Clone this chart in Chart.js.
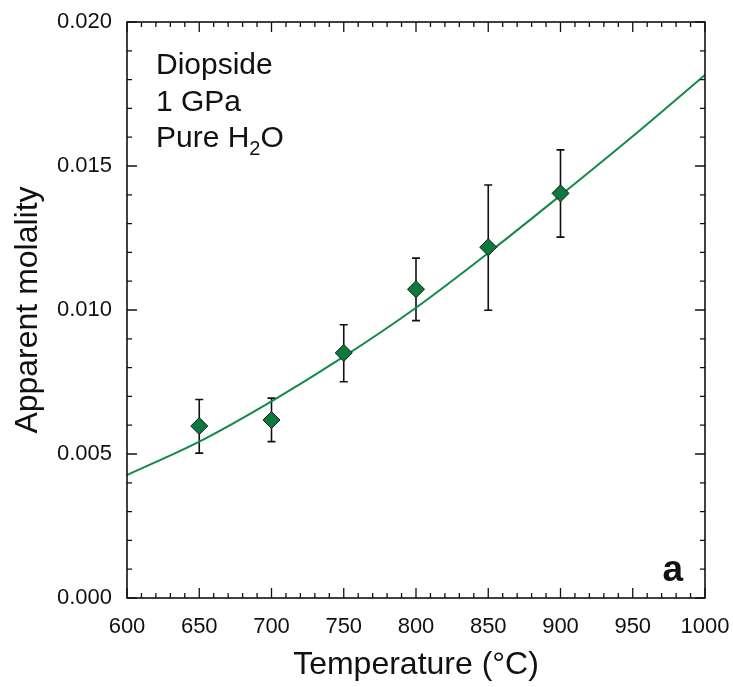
<!DOCTYPE html>
<html>
<head>
<meta charset="utf-8">
<script src="https://cdn.jsdelivr.net/npm/chart.js@4.4.1/dist/chart.umd.min.js"></script>
<style>
  html, body { margin: 0; padding: 0; background: #fff; }
  #wrap { width: 733px; height: 687px; }
</style>
</head>
<body>
<div id="wrap"><canvas id="molalityChart"></canvas></div>
<script>
// Measured points (diopside, 1 GPa, pure H2O)
const temps = [650, 700, 750, 800, 850, 900];
const molality = [0.00597, 0.00618, 0.00851, 0.01072, 0.01218, 0.01405];
const errLow = [0.00503, 0.00543, 0.00751, 0.00963, 0.00999, 0.01253];
const errHigh = [0.00689, 0.00694, 0.00949, 0.01180, 0.01434, 0.01556];

// Fitted curve
const fitTemps = [600, 650, 700, 750, 800, 850, 900, 950, 1000];
const fitMolality = [0.00427, 0.00543, 0.00683, 0.00838, 0.01008, 0.01198, 0.01398, 0.01603, 0.01816];

const FONT = "'Liberation Sans', Arial, Helvetica, sans-serif";
const GREEN_LINE = '#14894a';
const GREEN_FILL = '#0b7a3c';

// error bars under the diamonds
const errorBarPlugin = {
    id: 'errorBars',
    beforeDatasetsDraw(chart) {
        const ctx = chart.ctx;
        const x = chart.scales.x, y = chart.scales.y;
        ctx.save();
        ctx.strokeStyle = '#111';
        ctx.lineWidth = 1.6;
        temps.forEach((t, i) => {
            const px = x.getPixelForValue(t);
            const top = y.getPixelForValue(errHigh[i]);
            const bot = y.getPixelForValue(errLow[i]);
            ctx.beginPath();
            ctx.moveTo(px, top); ctx.lineTo(px, bot);
            ctx.moveTo(px - 4, top); ctx.lineTo(px + 4, top);
            ctx.moveTo(px - 4, bot); ctx.lineTo(px + 4, bot);
            ctx.stroke();
        });
        ctx.restore();
    }
};

// frame with inward ticks on all four sides, plus the text labels
const framePlugin = {
    id: 'frame',
    afterDraw(chart) {
        const ctx = chart.ctx;
        const a = chart.chartArea;
        const x = chart.scales.x, y = chart.scales.y;
        ctx.save();
        ctx.strokeStyle = '#111';
        ctx.lineWidth = 1.6;
        ctx.strokeRect(a.left, a.top, a.right - a.left, a.bottom - a.top);
        ctx.lineWidth = 1.3;
        ctx.beginPath();
        for (let v = 600; v <= 1000; v += 10) {
            const px = x.getPixelForValue(v);
            const len = v % 50 === 0 ? 10 : 5;
            ctx.moveTo(px, a.bottom); ctx.lineTo(px, a.bottom - len);
            ctx.moveTo(px, a.top); ctx.lineTo(px, a.top + len);
        }
        for (let i = 0; i <= 20; i++) {
            const py = y.getPixelForValue(i * 0.001);
            const len = i % 5 === 0 ? 10 : 5;
            ctx.moveTo(a.left, py); ctx.lineTo(a.left + len, py);
            ctx.moveTo(a.right, py); ctx.lineTo(a.right - len, py);
        }
        ctx.stroke();

        ctx.fillStyle = '#111';
        ctx.textBaseline = 'alphabetic';
        ctx.textAlign = 'left';
        ctx.font = '30px ' + FONT;
        const tx = a.left + 29;
        ctx.fillText('Diopside', tx, 74);
        ctx.fillText('1 GPa', tx, 111);
        ctx.fillText('Pure H', tx, 147);
        let w = ctx.measureText('Pure H').width;
        ctx.font = '20px ' + FONT;
        ctx.fillText('2', tx + w, 155);
        w += ctx.measureText('2').width;
        ctx.font = '30px ' + FONT;
        ctx.fillText('O', tx + w, 147);

        ctx.font = 'bold 37px ' + FONT;
        ctx.textAlign = 'right';
        ctx.fillText('a', a.right - 22, 581);
        ctx.restore();
    }
};

new Chart(document.getElementById('molalityChart'), {
    type: 'scatter',
    data: {
        datasets: [
            {
                label: 'Measured',
                data: temps.map((t, i) => ({ x: t, y: molality[i] })),
                pointStyle: 'rectRot',
                pointRadius: 8.5,
                pointBackgroundColor: GREEN_FILL,
                pointBorderColor: '#1a1a1a',
                pointBorderWidth: 1,
                order: 0
            },
            {
                type: 'line',
                label: 'Fit',
                data: fitTemps.map((t, i) => ({ x: t, y: fitMolality[i] })),
                borderColor: GREEN_LINE,
                borderWidth: 2,
                pointRadius: 0,
                cubicInterpolationMode: 'monotone',
                fill: false,
                order: 1
            }
        ]
    },
    options: {
        responsive: true,
        maintainAspectRatio: false,
        animation: false,
        layout: { padding: { left: 0, top: 22, right: 28, bottom: 0 } },
        plugins: {
            legend: { display: false },
            tooltip: { enabled: false }
        },
        scales: {
            x: {
                type: 'linear',
                min: 600,
                max: 1000,
                grid: { display: false, drawTicks: false },
                border: { display: false },
                ticks: {
                    stepSize: 50,
                    padding: 16,
                    color: '#111',
                    font: { family: FONT, size: 22 },
                    callback: v => String(v)
                },
                title: {
                    display: true,
                    text: 'Temperature (°C)',
                    color: '#111',
                    font: { family: FONT, size: 32 },
                    padding: { top: 0, bottom: 3 }
                },
                afterFit(scale) {
                    scale.height = 89;
                    scale.paddingLeft = 0;
                    scale.paddingRight = 0;
                }
            },
            y: {
                type: 'linear',
                min: 0,
                max: 0.02,
                grid: { display: false, drawTicks: false },
                border: { display: false },
                ticks: {
                    stepSize: 0.005,
                    padding: 15,
                    color: '#111',
                    font: { family: FONT, size: 22 },
                    callback: v => v.toFixed(3)
                },
                title: {
                    display: true,
                    text: 'Apparent molality',
                    color: '#111',
                    font: { family: FONT, size: 32 },
                    padding: { top: 9, bottom: 0 }
                },
                afterFit(scale) {
                    scale.width = 127;
                    scale.paddingTop = 0;
                    scale.paddingBottom = 0;
                }
            }
        }
    },
    plugins: [errorBarPlugin, framePlugin]
});
</script>
</body>
</html>
